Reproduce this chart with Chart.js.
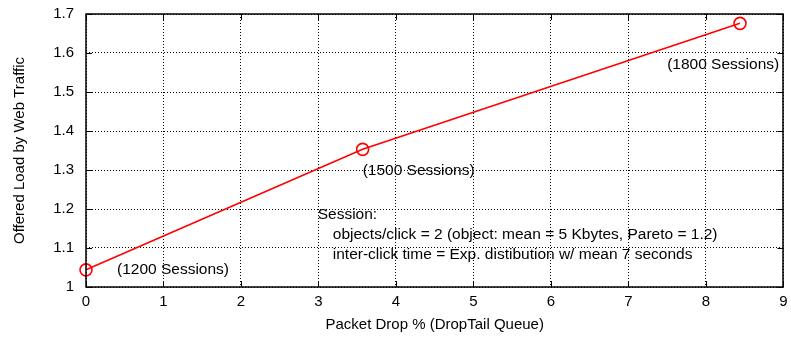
<!DOCTYPE html>
<html>
<head>
<meta charset="utf-8">
<script src="https://cdn.jsdelivr.net/npm/chart.js@4/dist/chart.umd.min.js"></script>
<style>
  body { margin: 0; background: #fff; }
  #wrap { width: 791px; height: 338px; }
</style>
</head>
<body>
<div id="wrap"><canvas id="loadChart" width="791" height="338"></canvas></div>
<script>
// Data dari grafik
const dropPct = [0, 3.57, 8.44];
const offeredLoad = [1.044, 1.353, 1.676];

// Label sesi di samping titik
const sessionLabels = ['(1200 Sessions)', '(1500 Sessions)', '(1800 Sessions)'];
const sessionLabelX = [0.4, 3.57, 7.5];
const sessionLabelY = [1.044, 1.298, 1.569];

// Catatan keterangan sesi
const noteLines = [
  'Session:',
  'objects/click = 2 (object: mean = 5 Kbytes, Pareto = 1.2)',
  'inter-click time = Exp. distibution w/ mean 7 seconds'
];
const noteX = [2.99, 3.185, 3.185];
const noteY = [1.185, 1.133, 1.082];

// Label tick sumbu
const xTickLabels = ['0', '1', '2', '3', '4', '5', '6', '7', '8', '9'];
const yTickLabels = ['1', '1.1', '1.2', '1.3', '1.4', '1.5', '1.6', '1.7'];

const fontFamily = "'Liberation Sans', Arial, Helvetica, sans-serif";

// Plugin untuk border, tick ke dalam, dan teks anotasi
const framePlugin = {
  id: 'frame',
  afterDatasetsDraw(chart) {
    const ctx = chart.ctx;
    const area = chart.chartArea;
    const xs = chart.scales.x;
    const ys = chart.scales.y;
    const tick = 6;

    ctx.save();
    ctx.strokeStyle = '#000';
    ctx.lineWidth = 1;
    ctx.setLineDash([]);
    ctx.beginPath();
    xs.ticks.forEach(t => {
      const px = Math.round(xs.getPixelForValue(t.value)) + 0.5;
      ctx.moveTo(px, area.bottom);
      ctx.lineTo(px, area.bottom - tick);
      ctx.moveTo(px, area.top);
      ctx.lineTo(px, area.top + tick);
    });
    ys.ticks.forEach(t => {
      const py = Math.round(ys.getPixelForValue(t.value)) + 0.5;
      ctx.moveTo(area.left, py);
      ctx.lineTo(area.left + tick, py);
      ctx.moveTo(area.right, py);
      ctx.lineTo(area.right - tick, py);
    });
    ctx.stroke();

    ctx.lineWidth = 1.5;
    ctx.strokeRect(Math.round(area.left), Math.round(area.top),
      Math.round(area.right - area.left), Math.round(area.bottom - area.top));

    ctx.fillStyle = '#000';
    ctx.font = '15.5px ' + fontFamily;
    ctx.textAlign = 'left';
    ctx.textBaseline = 'middle';
    sessionLabels.forEach((txt, i) => {
      ctx.fillText(txt, xs.getPixelForValue(sessionLabelX[i]), ys.getPixelForValue(sessionLabelY[i]));
    });
    noteLines.forEach((txt, i) => {
      ctx.fillText(txt, xs.getPixelForValue(noteX[i]), ys.getPixelForValue(noteY[i]));
    });
    ctx.restore();
  }
};

const loadChart = new Chart(document.getElementById('loadChart'), {
  type: 'scatter',
  data: {
    datasets: [{
      label: 'Offered Load',
      data: dropPct.map((x, i) => ({ x: x, y: offeredLoad[i] })),
      showLine: true,
      borderColor: '#ff0000',
      backgroundColor: 'rgba(0,0,0,0)',
      borderWidth: 1.6,
      pointRadius: 6,
      pointBorderWidth: 1.6,
      pointBorderColor: '#ff0000',
      pointBackgroundColor: 'rgba(0,0,0,0)',
      clip: false
    }]
  },
  options: {
    responsive: false,
    animation: false,
    layout: { padding: { top: 14, right: 6, bottom: 0, left: 0 } },
    plugins: {
      legend: { display: false },
      tooltip: { enabled: false }
    },
    scales: {
      x: {
        type: 'linear',
        min: 0,
        max: 9,
        afterFit: scale => {
          scale.height = 51;
          scale.paddingLeft = 0;
          scale.paddingRight = 0;
        },
        grid: { color: '#000', lineWidth: 1, drawTicks: false },
        border: { display: false, dash: [1, 2] },
        ticks: {
          stepSize: 1,
          padding: 6,
          color: '#000',
          font: { family: fontFamily, size: 15 },
          callback: (value, index) => xTickLabels[index]
        },
        title: {
          display: true,
          text: 'Packet Drop % (DropTail Queue)',
          color: '#000',
          font: { family: fontFamily, size: 15 },
          padding: { top: 0, bottom: 4 }
        }
      },
      y: {
        min: 1,
        max: 1.7,
        afterFit: scale => {
          scale.width = 86;
          scale.paddingTop = 0;
          scale.paddingBottom = 0;
        },
        grid: { color: '#000', lineWidth: 1, drawTicks: false },
        border: { display: false, dash: [1, 2] },
        ticks: {
          stepSize: 0.1,
          padding: 12,
          color: '#000',
          font: { family: fontFamily, size: 15 },
          callback: (value, index) => yTickLabels[index]
        },
        title: {
          display: true,
          text: 'Offered Load by Web Traffic',
          color: '#000',
          font: { family: fontFamily, size: 15 },
          padding: { top: 11, bottom: 0 }
        }
      }
    }
  },
  plugins: [framePlugin]
});
</script>
</body>
</html>
